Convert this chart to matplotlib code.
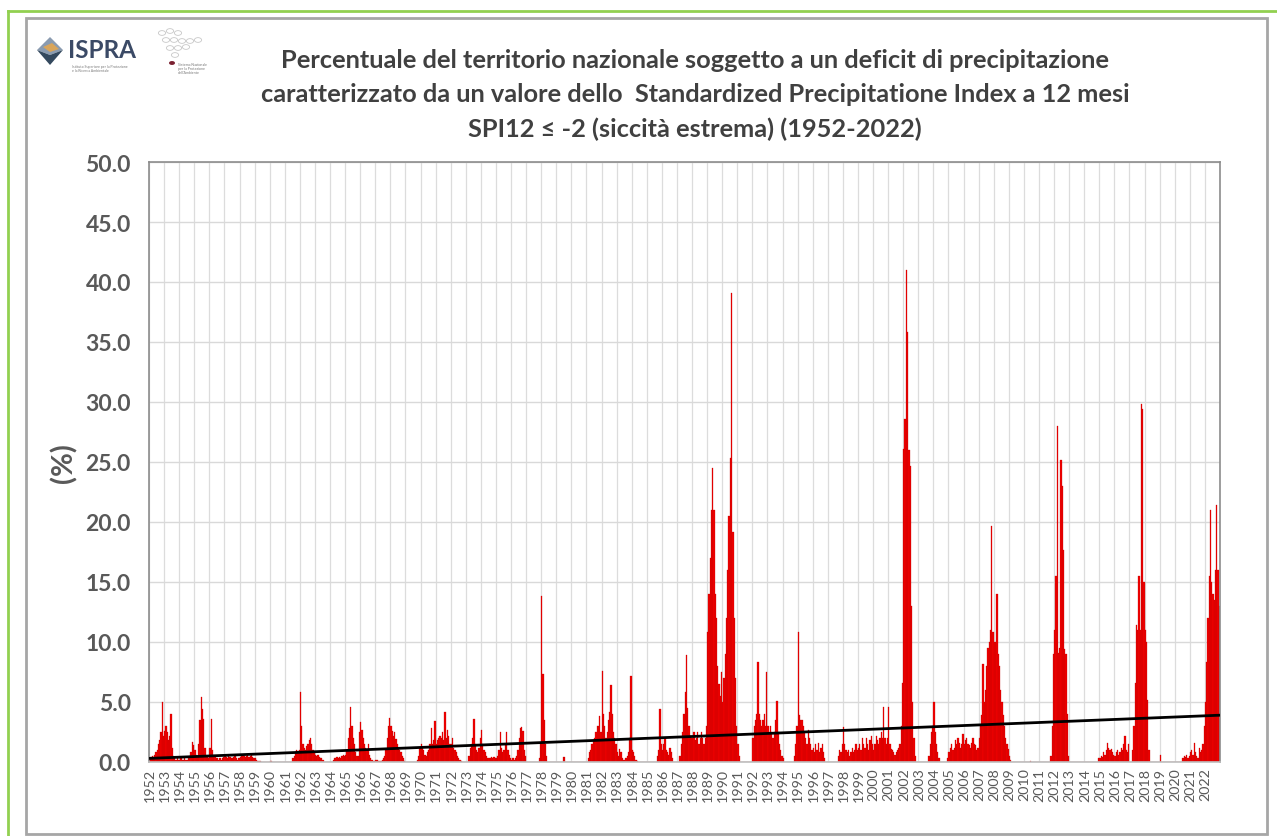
import numpy as np
import matplotlib
matplotlib.use('Agg')
import matplotlib.pyplot as plt
from matplotlib.patches import Rectangle, Polygon, Circle

# ---------------------------------------------------------------------------
# Data: % of national territory with SPI12 <= -2, monthly 1952-2022
# ---------------------------------------------------------------------------
years = list(range(1952, 2023))

spi = {
    1952: [0.3, 0.4, 0.5, 0.4, 0.6, 0.8, 1.0, 1.5, 1.8, 2.5, 5.0, 2.2],
    1953: [2.6, 3.0, 2.5, 1.8, 2.2, 4.0, 1.2, 0.5, 0.3, 0.2, 0.3, 0.2],
    1954: [0.2, 0.3, 0.2, 0.2, 0.3, 0.2, 0.2, 0.3, 0.5, 0.8, 1.7, 1.4],
    1955: [1.0, 0.6, 0.5, 1.5, 3.5, 5.4, 4.4, 3.6, 1.2, 0.5, 0.4, 0.3],
    1956: [1.2, 3.6, 1.0, 0.5, 0.4, 0.3, 0.3, 0.2, 0.3, 0.2, 0.3, 0.4],
    1957: [0.5, 0.4, 0.3, 0.5, 0.4, 0.3, 0.3, 0.4, 0.5, 0.3, 0.2, 0.3],
    1958: [0.4, 0.5, 0.6, 0.5, 0.4, 0.5, 0.6, 0.4, 0.5, 0.6, 0.4, 0.3],
    1959: [0.3, 0.2, 0.1, 0.1, 0.1, 0.0, 0.0, 0.0, 0.0, 0.0, 0.0, 0.0],
    1960: [0.1, 0.1, 0.0, 0.0, 0.0, 0.0, 0.0, 0.0, 0.0, 0.0, 0.0, 0.0],
    1961: [0.0, 0.0, 0.0, 0.0, 0.0, 0.0, 0.3, 0.5, 0.8, 1.0, 0.9, 1.0],
    1962: [5.8, 3.0, 1.5, 1.2, 1.0, 1.3, 1.5, 1.8, 2.0, 1.5, 1.0, 0.8],
    1963: [0.6, 0.5, 0.6, 0.4, 0.3, 0.3, 0.2, 0.0, 0.0, 0.0, 0.0, 0.0],
    1964: [0.0, 0.0, 0.2, 0.3, 0.3, 0.4, 0.3, 0.4, 0.3, 0.5, 0.6, 0.5],
    1965: [0.6, 1.0, 2.0, 2.8, 4.6, 3.0, 2.0, 1.5, 0.8, 0.5, 0.5, 2.5],
    1966: [3.3, 2.7, 2.0, 1.5, 1.2, 1.0, 1.5, 0.6, 0.3, 0.2, 0.1, 0.1],
    1967: [0.2, 0.2, 0.1, 0.1, 0.1, 0.2, 0.3, 0.5, 1.0, 2.0, 3.0, 3.7],
    1968: [3.0, 2.6, 2.2, 2.5, 1.9, 1.5, 1.2, 1.0, 0.8, 0.5, 0.3, 0.1],
    1969: [0.0, 0.0, 0.0, 0.0, 0.0, 0.0, 0.0, 0.0, 0.0, 0.2, 0.5, 1.2],
    1970: [1.5, 1.2, 1.0, 0.6, 0.5, 0.8, 1.0, 1.5, 2.8, 1.5, 1.8, 3.4],
    1971: [1.5, 1.8, 2.0, 2.2, 2.0, 2.5, 1.8, 4.2, 2.0, 2.7, 2.2, 1.5],
    1972: [1.5, 2.0, 1.2, 1.0, 0.8, 0.5, 0.3, 0.2, 0.1, 0.0, 0.0, 0.0],
    1973: [0.0, 0.0, 0.5, 1.2, 1.5, 2.0, 3.6, 1.5, 1.0, 0.8, 1.2, 2.0],
    1974: [2.7, 1.5, 1.0, 0.8, 0.5, 0.3, 0.3, 0.3, 0.4, 0.3, 0.4, 0.3],
    1975: [0.3, 0.5, 1.0, 2.5, 1.2, 0.8, 1.0, 1.5, 2.5, 1.0, 0.6, 0.3],
    1976: [0.2, 0.3, 0.2, 0.3, 0.5, 1.0, 2.0, 2.8, 2.9, 2.6, 1.0, 0.5],
    1977: [0.0, 0.0, 0.0, 0.0, 0.0, 0.0, 0.0, 0.0, 0.0, 0.0, 0.3, 1.5],
    1978: [13.8, 7.3, 3.5, 1.5, 0.5, 0.0, 0.0, 0.0, 0.0, 0.0, 0.0, 0.0],
    1979: [0.0, 0.0, 0.0, 0.0, 0.0, 0.4, 0.4, 0.0, 0.0, 0.0, 0.0, 0.0],
    1980: [0.0, 0.0, 0.0, 0.0, 0.0, 0.0, 0.0, 0.0, 0.0, 0.0, 0.0, 0.0],
    1981: [0.0, 0.3, 0.8, 1.0, 1.5, 1.8, 2.0, 2.5, 3.0, 3.0, 3.8, 2.5],
    1982: [7.6, 4.0, 3.0, 2.0, 2.5, 3.5, 4.2, 6.4, 4.0, 2.5, 2.0, 1.5],
    1983: [0.8, 0.5, 1.1, 0.8, 0.3, 0.2, 0.2, 0.3, 0.5, 0.8, 2.0, 7.2],
    1984: [1.0, 0.8, 0.5, 0.2, 0.1, 0.0, 0.0, 0.0, 0.0, 0.0, 0.0, 0.0],
    1985: [0.0, 0.0, 0.0, 0.0, 0.0, 0.0, 0.0, 0.0, 0.5, 1.0, 4.4, 1.5],
    1986: [1.0, 1.5, 2.0, 1.0, 0.8, 0.6, 1.2, 0.8, 0.3, 0.0, 0.0, 0.0],
    1987: [0.0, 0.0, 0.5, 1.5, 2.5, 4.0, 5.8, 8.9, 4.5, 3.0, 2.2, 2.0],
    1988: [2.0, 2.5, 1.8, 2.0, 2.5, 1.5, 2.0, 2.5, 2.0, 1.5, 2.0, 3.0],
    1989: [10.8, 14.0, 17.0, 21.0, 24.5, 21.0, 14.0, 12.0, 8.0, 6.5, 5.5, 7.5],
    1990: [5.0, 7.0, 9.0, 12.0, 16.0, 20.5, 25.3, 39.1, 19.2, 12.0, 7.0, 3.0],
    1991: [1.5, 0.5, 0.0, 0.0, 0.0, 0.0, 0.0, 0.0, 0.0, 0.0, 0.0, 0.0],
    1992: [2.0, 3.0, 3.5, 4.0, 8.3, 4.0, 3.5, 3.0, 3.5, 4.0, 3.0, 7.5],
    1993: [3.0, 2.5, 3.0, 2.5, 2.0, 2.5, 3.5, 5.1, 2.5, 1.5, 1.0, 0.5],
    1994: [0.3, 0.0, 0.0, 0.0, 0.0, 0.0, 0.0, 0.0, 0.0, 0.5, 1.5, 3.0],
    1995: [10.8, 3.9, 3.5, 3.5, 3.0, 2.5, 2.0, 1.5, 2.7, 2.0, 1.5, 1.0],
    1996: [1.2, 0.8, 1.5, 1.0, 1.6, 0.8, 1.2, 1.5, 0.8, 0.3, 0.0, 0.0],
    1997: [0.0, 0.0, 0.0, 0.0, 0.0, 0.0, 0.0, 0.0, 0.5, 1.0, 0.8, 1.5],
    1998: [2.9, 1.5, 1.0, 0.8, 1.0, 0.5, 0.8, 1.2, 0.8, 1.0, 1.5, 1.0],
    1999: [1.2, 1.5, 1.0, 2.0, 1.5, 1.2, 2.0, 1.5, 1.0, 1.8, 2.2, 1.5],
    2000: [1.0, 1.5, 2.2, 1.8, 1.5, 2.0, 2.5, 2.0, 4.6, 2.0, 1.5, 2.0],
    2001: [4.6, 1.5, 1.1, 1.0, 0.8, 0.6, 0.8, 1.0, 1.2, 1.5, 3.0, 6.6],
    2002: [26.1, 28.6, 41.0, 35.8, 26.0, 24.7, 13.0, 5.0, 2.0, 0.5, 0.0, 0.0],
    2003: [0.0, 0.0, 0.0, 0.0, 0.0, 0.0, 0.0, 0.0, 0.5, 1.5, 2.5, 3.0],
    2004: [5.0, 2.5, 1.5, 0.8, 0.3, 0.0, 0.0, 0.0, 0.0, 0.0, 0.0, 0.3],
    2005: [0.8, 1.2, 1.5, 1.0, 1.2, 1.8, 1.5, 2.0, 1.6, 1.2, 1.5, 2.3],
    2006: [1.5, 1.8, 2.0, 1.5, 1.4, 1.2, 1.6, 2.0, 1.5, 1.4, 1.0, 1.2],
    2007: [2.0, 3.0, 3.9, 8.2, 5.0, 6.0, 8.0, 9.5, 10.0, 11.0, 19.7, 10.8],
    2008: [10.0, 10.0, 14.0, 9.0, 8.0, 6.0, 5.0, 3.9, 3.0, 2.0, 1.5, 1.1],
    2009: [0.5, 0.2, 0.0, 0.0, 0.0, 0.0, 0.0, 0.0, 0.0, 0.0, 0.0, 0.0],
    2010: [0.0, 0.0, 0.0, 0.0, 0.0, 0.1, 0.0, 0.0, 0.0, 0.0, 0.0, 0.0],
    2011: [0.0, 0.0, 0.0, 0.0, 0.0, 0.0, 0.0, 0.0, 0.0, 0.5, 3.0, 9.0],
    2012: [11.0, 15.5, 28.0, 9.1, 9.5, 25.2, 23.0, 17.7, 9.4, 9.0, 4.0, 0.5],
    2013: [0.0, 0.0, 0.0, 0.0, 0.0, 0.0, 0.0, 0.0, 0.0, 0.0, 0.0, 0.0],
    2014: [0.0, 0.0, 0.0, 0.0, 0.0, 0.0, 0.0, 0.0, 0.0, 0.0, 0.0, 0.3],
    2015: [0.3, 0.5, 0.4, 0.8, 0.6, 1.0, 1.6, 1.2, 1.0, 1.1, 0.8, 0.6],
    2016: [0.5, 0.8, 1.0, 0.6, 0.8, 1.2, 1.0, 1.5, 2.2, 1.0, 0.8, 1.5],
    2017: [0.0, 0.0, 1.0, 3.0, 6.6, 11.4, 11.0, 15.5, 11.0, 29.8, 29.4, 15.0],
    2018: [11.0, 10.0, 5.2, 1.0, 0.0, 0.0, 0.0, 0.0, 0.0, 0.0, 0.0, 0.0],
    2019: [0.6, 0.0, 0.0, 0.0, 0.0, 0.0, 0.0, 0.0, 0.0, 0.0, 0.0, 0.0],
    2020: [0.0, 0.0, 0.0, 0.0, 0.0, 0.0, 0.3, 0.5, 0.4, 0.6, 0.3, 0.5],
    2021: [0.8, 1.0, 0.6, 1.6, 0.8, 0.5, 0.3, 1.2, 0.8, 1.0, 1.5, 3.0],
    2022: [5.0, 8.3, 12.0, 15.5, 21.0, 15.0, 14.0, 13.5, 16.0, 21.4, 16.0, 13.0],
}

# linear trend as drawn in the source (start / end value, %)
trend_start = 0.3
trend_end = 3.9

yticks = [0, 5, 10, 15, 20, 25, 30, 35, 40, 45, 50]

title_lines = [
    "Percentuale del territorio nazionale soggetto a un deficit di precipitazione",
    "caratterizzato da un valore dello  Standardized Precipitatione Index a 12 mesi",
    "SPI12 \u2264 -2 (siccit\u00e0 estrema) (1952-2022)",
]

# ---------------------------------------------------------------------------
values = np.concatenate([spi[y] for y in years])
idx = np.arange(len(values))

W, H = 1277, 837
fig = plt.figure(figsize=(W / 100, H / 100), dpi=100)
fig.patch.set_facecolor('white')

FONT = ['Lato', 'DejaVu Sans']
GREY = '#595959'

ax = fig.add_axes([149 / W, 1 - 763 / H, (1220 - 149) / W, (763 - 163) / H])
ax.set_facecolor('white')

ax.bar(idx, values, width=1.0, color='#f00000', edgecolor='#c00000',
       linewidth=0.2, zorder=2)
ax.plot([idx[0] - 0.5, idx[-1] + 0.5], [trend_start, trend_end],
        color='black', lw=2.0, zorder=3)

ax.set_xlim(-0.5, len(values) - 0.5)
ax.set_ylim(0, 50)
ax.set_yticks(yticks)
ax.set_yticklabels([f"{v:.1f}" for v in yticks], fontsize=16.5,
                   fontweight='bold', color=GREY, family=FONT)
ax.set_xticks(np.arange(len(years)) * 12)
ax.set_xticklabels([str(y) for y in years], rotation=90, fontsize=10.3,
                   color=GREY, family=FONT)
ax.set_xticks(np.arange(len(years) + 1) * 12 - 0.5, minor=True)
ax.tick_params(axis='both', which='both', length=0)
ax.tick_params(axis='y', pad=13)
ax.tick_params(axis='x', pad=4)
ax.grid(axis='y', which='major', color='#d9d9d9', lw=1.0, zorder=0)
ax.grid(axis='x', which='minor', color='#dcdcdc', lw=0.9, zorder=0)
for s in ax.spines.values():
    s.set_color('#8c8c8c')
    s.set_linewidth(1.2)
ax.spines['bottom'].set_color('#bfbfbf')

ax.set_ylabel("(%)", fontsize=21, fontweight='bold', color=GREY,
              family=FONT, labelpad=6)

# title
for k, line in enumerate(title_lines):
    fig.text(695 / W, 1 - (61 + 34 * k) / H, line, ha='center', va='center',
             fontsize=18.3, fontweight='bold', color='#404040', family=FONT)

# frames
fig.add_artist(Rectangle((26 / W, 2 / H), (1267 - 26) / W, (818 - 2) / H,
                         transform=fig.transFigure, fill=False,
                         edgecolor='#a6a6a6', lw=2))
fig.add_artist(plt.Line2D([8 / W, 8 / W], [0, 1 - 12 / H],
                          transform=fig.transFigure, color='#92d050', lw=2))
fig.add_artist(plt.Line2D([8 / W, 1], [1 - 12 / H, 1 - 12 / H],
                          transform=fig.transFigure, color='#92d050', lw=2))

# ISPRA logo (simplified)
def fpt(x, y):
    return (x / W, 1 - y / H)

fig.add_artist(Polygon([fpt(37, 51), fpt(50, 38), fpt(63, 51), fpt(50, 56)],
                       closed=True, transform=fig.transFigure,
                       facecolor='#8a9bb0', edgecolor='none'))
fig.add_artist(Polygon([fpt(37, 51), fpt(50, 56), fpt(63, 51), fpt(50, 66)],
                       closed=True, transform=fig.transFigure,
                       facecolor='#34495e', edgecolor='none'))
fig.add_artist(Polygon([fpt(43, 48), fpt(52, 44), fpt(59, 50), fpt(50, 53)],
                       closed=True, transform=fig.transFigure,
                       facecolor='#d9a55a', edgecolor='none'))
fig.text(68 / W, 1 - 51 / H, "ISPRA", ha='left', va='center', fontsize=17.5,
         fontweight='bold', color='#3b4a66', family=FONT)
fig.text(72 / W, 1 - 69 / H, "Istituto Superiore per la Protezione\ne la Ricerca Ambientale",
         ha='left', va='center', fontsize=2.6, color='#7a7a7a', family=FONT,
         linespacing=1.1)

# second logo (simplified)
for cx, cy in [(162, 34), (170, 32), (178, 34), (166, 41), (174, 41), (182, 42),
               (190, 42), (198, 41), (170, 49), (178, 49), (186, 48), (175, 56)]:
    fig.add_artist(Circle(fpt(cx, cy), 3.6 / W, transform=fig.transFigure,
                          fill=False, edgecolor='#c8c8c8', lw=0.6))
fig.add_artist(Circle(fpt(172, 64), 3.0 / W, transform=fig.transFigure,
                      facecolor='#7a2030', edgecolor='none'))
fig.text(178 / W, 1 - 69 / H, "Sistema Nazionale\nper la Protezione\ndell'Ambiente",
         ha='left', va='center', fontsize=2.6, color='#7a7a7a', family=FONT,
         linespacing=1.1)

fig.savefig('out.png', dpi=100, facecolor='white')
